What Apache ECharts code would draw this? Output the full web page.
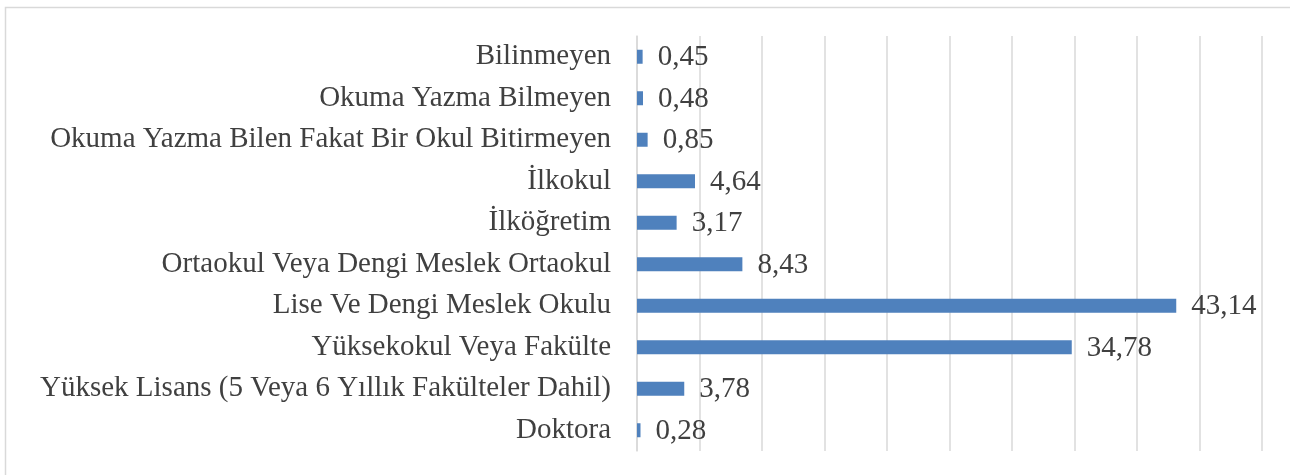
<!DOCTYPE html>
<html>
<head>
<meta charset="utf-8">
<script src="https://cdn.jsdelivr.net/npm/echarts@6/dist/echarts.min.js"></script>
<style>
  html, body { margin: 0; padding: 0; background: #fff; }
  #chart { width: 1290px; height: 475px; }
</style>
</head>
<body>
<div id="chart"></div>
<script>
// categories bottom -> top (ECharts category y axis starts at bottom)
const categories = [
  'Doktora',
  'Yüksek Lisans (5 Veya 6 Yıllık Fakülteler Dahil)',
  'Yüksekokul Veya Fakülte',
  'Lise Ve Dengi Meslek Okulu',
  'Ortaokul Veya Dengi Meslek Ortaokul',
  'İlköğretim',
  'İlkokul',
  'Okuma Yazma Bilen Fakat Bir Okul Bitirmeyen',
  'Okuma Yazma Bilmeyen',
  'Bilinmeyen'
]
const values = [0.28, 3.78, 34.78, 43.14, 8.43, 3.17, 4.64, 0.85, 0.48, 0.45]

const chart = echarts.init(document.getElementById('chart'))

const option = {
  animation: false,
  graphic: [
    {
      type: 'rect',
      shape: { x: 5.5, y: 7.5, width: 1300, height: 480 },
      style: { fill: 'none', stroke: '#d9d9d9', lineWidth: 1.5 },
      silent: true
    }
  ],
  grid: {
    left: 637,
    right: 28,
    top: 36,
    bottom: 24,
    containLabel: false
  },
  xAxis: {
    type: 'value',
    min: 0,
    max: 50,
    interval: 5,
    axisLabel: { show: false },
    axisLine: { show: false },
    axisTick: { show: false },
    splitLine: { lineStyle: { color: '#d9d9d9', width: 1.5 } }
  },
  yAxis: {
    type: 'category',
    data: categories,
    axisLine: { show: true, lineStyle: { color: '#d9d9d9', width: 1.5 } },
    axisTick: { show: false },
    axisLabel: {
      margin: 26,
      color: '#404040',
      fontFamily: 'Liberation Serif',
      fontSize: 29
    }
  },
  series: [
    {
      type: 'bar',
      data: values,
      barWidth: 14,
      itemStyle: { color: '#4f81bd' },
      label: {
        show: true,
        position: 'right',
        distance: 15,
        offset: [0, 1],
        color: '#404040',
        fontFamily: 'Liberation Serif',
        fontSize: 29,
        formatter: p => p.value.toFixed(2).replace('.', ',')
      }
    }
  ]
}

chart.setOption(option)
</script>
</body>
</html>
